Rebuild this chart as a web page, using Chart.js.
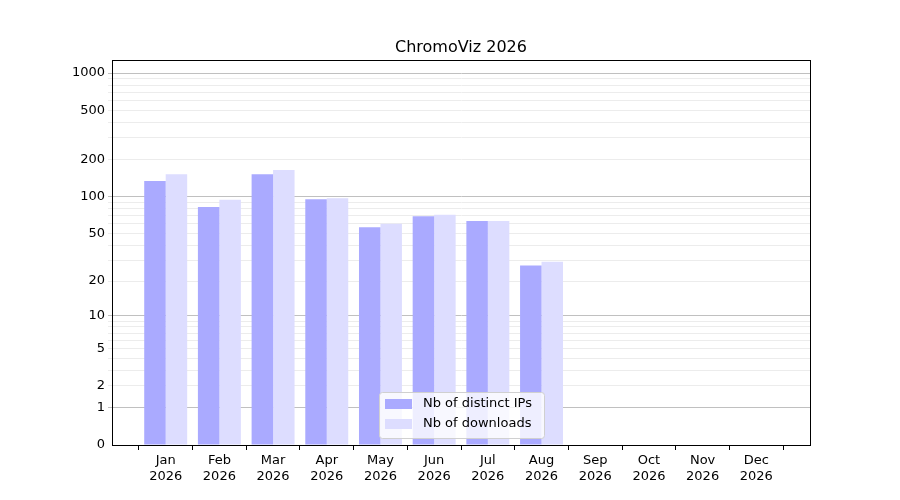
<!DOCTYPE html>
<html>
<head>
<meta charset="utf-8">
<script src="https://cdn.jsdelivr.net/npm/chart.js@4/dist/chart.umd.min.js"></script>
<style>
  html, body { margin: 0; background: #fff; }
  #wrap { width: 900px; height: 500px; }
</style>
</head>
<body>
<div id="wrap"><canvas id="chart" width="900" height="500"></canvas></div>
<script>
// ChromoViz 2026 — monthly stats, y on log10(1 + v) scale
const months     = ['Jan', 'Feb', 'Mar', 'Apr', 'May', 'Jun', 'Jul', 'Aug', 'Sep', 'Oct', 'Nov', 'Dec'];
const year       = '2026';
const distinctIPs = [134, 82, 152, 95, 56, 69, 63, 27, 0, 0, 0, 0];
const downloads   = [152, 94, 164, 97, 60, 71, 63, 29, 0, 0, 0, 0];
const majorTicks  = [0, 1, 2, 5, 10, 20, 50, 100, 200, 500, 1000];
const minorTicks  = [3, 4, 6, 7, 8, 9, 30, 40, 60, 70, 80, 90, 300, 400, 600, 700, 800, 900];
const darkLines   = [1, 10, 100, 1000];

const tf = v => Math.log10(1 + v);
const toPoints = arr => arr.map((v, i) => ({ x: i, y: tf(v) }));
const FONT = { family: 'DejaVu Sans', size: 13 };

//  Frame + title + legend drawn over chart area
const framePlugin = {
  id: 'frame',
  afterDraw(chart) {
    const { ctx, chartArea: a } = chart;
    ctx.save();
    ctx.strokeStyle = '#000';
    ctx.lineWidth = 1;
    ctx.strokeRect(a.left + 0.5, a.top + 0.5, a.right - a.left, a.bottom - a.top);

    ctx.fillStyle = '#000';
    ctx.font = '16px DejaVu Sans';
    ctx.textAlign = 'center';
    ctx.textBaseline = 'alphabetic';
    ctx.fillText('ChromoViz 2026', (a.left + a.right) / 2, 52);

    // legend box
    const lx = 379, ly = 392, lw = 165, lh = 46;
    ctx.fillStyle = 'rgba(255,255,255,0.8)';
    ctx.strokeStyle = '#d0d0d0';
    ctx.beginPath();
    ctx.roundRect(lx + 0.5, ly + 0.5, lw, lh, 3);
    ctx.fill();
    ctx.stroke();
    ctx.font = '13px DejaVu Sans';
    ctx.textAlign = 'left';
    ctx.textBaseline = 'middle';
    chart.data.datasets.forEach((ds, i) => {
      const y = ly + 12 + i * 20;
      ctx.fillStyle = ds.backgroundColor;
      ctx.fillRect(lx + 6, y - 5, 27, 10);
      ctx.fillStyle = '#000';
      ctx.fillText(ds.label, lx + 44, y);
    });
    ctx.restore();
  }
};

new Chart(document.getElementById('chart'), {
  type: 'bar',
  data: {
    datasets: [
      { label: 'Nb of distinct IPs', data: toPoints(distinctIPs), backgroundColor: '#aaaaff' },
      { label: 'Nb of downloads',    data: toPoints(downloads),   backgroundColor: '#ddddff' }
    ]
  },
  options: {
    responsive: false,
    animation: false,
    layout: { padding: { top: 60, right: 90, left: 0, bottom: 0 } },
    datasets: { bar: { categoryPercentage: 0.8, barPercentage: 1.0 } },
    plugins: { legend: { display: false }, tooltip: { enabled: false } },
    scales: {
      x: {
        type: 'linear',
        min: -1, max: 12,
        offset: false,
        afterFit: s => { s.height = 55; },
        afterBuildTicks: s => { s.ticks = months.map((m, i) => ({ value: i })); },
        ticks: {
          color: '#000', font: FONT, autoSkip: false, maxRotation: 0,
          callback: v => [months[v], year]
        },
        grid: { drawOnChartArea: false, tickLength: 5, color: '#000' },
        border: { color: '#000' }
      },
      y: {
        type: 'linear',
        min: 0, max: tf(1000) + 0.105,
        afterFit: s => { s.width = 112; },
        afterBuildTicks: s => {
          s.ticks = majorTicks.concat(minorTicks).sort((a, b) => a - b)
            .map(v => ({ value: tf(v), raw: v, major: majorTicks.includes(v) }));
        },
        ticks: {
          color: '#000', font: FONT, autoSkip: false,
          callback: function (val, idx, ticks) {
            const t = ticks[idx];
            return t.major ? String(t.raw) : '';
          }
        },
        grid: {
          tickLength: 4,
          color: c => {
            const raw = c.tick && c.tick.raw;
            if (raw === 0) return 'rgba(0,0,0,0)';
            if (darkLines.includes(raw)) return '#c0c0c0';
            return '#ececec';
          }
        },
        border: { color: '#000' }
      }
    }
  },
  plugins: [framePlugin]
});
</script>
</body>
</html>
